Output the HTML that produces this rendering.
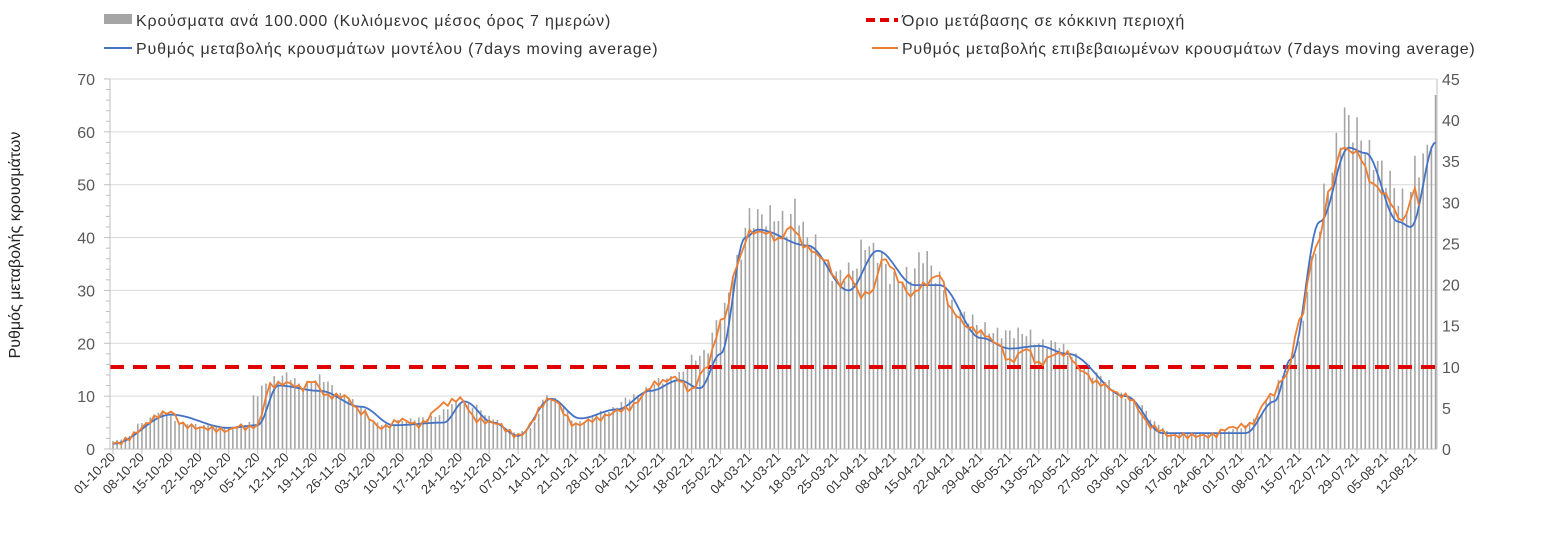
<!DOCTYPE html>
<html><head><meta charset="utf-8">
<style>
html,body{margin:0;padding:0;background:#fff;}
svg text{font-family:"Liberation Sans","DejaVu Sans",sans-serif;}
.lg{font-size:16px;letter-spacing:0.85px;fill:#333;}
</style></head><body>
<svg id="c" width="1550" height="532" xmlns="http://www.w3.org/2000/svg">
<rect width="1550" height="532" fill="#fff"/>
<g id="grid"></g>
<g id="bars"></g>
<line x1="110" y1="367" x2="1437" y2="367" stroke="#e00000" stroke-width="4" stroke-dasharray="14,9"/>
<polyline id="blue" fill="none" stroke="#4472c4" stroke-width="1.8"/>
<polyline id="orange" fill="none" stroke="#ed7d31" stroke-width="1.8"/>
<g id="axes"></g>
<text x="0" y="0" transform="translate(20,245) rotate(-90)" text-anchor="middle" font-size="16" fill="#222">Ρυθμός μεταβολής κρουσμάτων</text>
<rect x="104" y="14" width="28" height="10" fill="#a5a5a5"/>
<text x="136" y="26" class="lg">Κρούσματα ανά 100.000 (Κυλιόμενος μέσος όρος 7 ημερών)</text>
<line x1="104" y1="48" x2="132" y2="48" stroke="#4472c4" stroke-width="2"/>
<text x="136" y="54" class="lg">Ρυθμός μεταβολής κρουσμάτων μοντέλου (7days moving average)</text>
<line x1="866" y1="20" x2="898" y2="20" stroke="#e00000" stroke-width="4" stroke-dasharray="9,5"/>
<text x="902" y="26" class="lg">Όριο μετάβασης σε κόκκινη περιοχή</text>
<line x1="872" y1="48" x2="898" y2="48" stroke="#ed7d31" stroke-width="2"/>
<text x="902" y="54" class="lg" style="letter-spacing:0.75px">Ρυθμός μεταβολής επιβεβαιωμένων κρουσμάτων (7days moving average)</text>
</svg>
<script>
var NS="http://www.w3.org/2000/svg";
function el(p,t,a,txt){var e=document.createElementNS(NS,t);for(var k in a)e.setAttribute(k,a[k]);if(txt!==undefined)e.textContent=txt;document.getElementById(p).appendChild(e);return e;}
var X0=113,DX=4.133,Y0=449,PY=5.286;
function X(d){return X0+d*DX;} function Y(v){return Y0-v*PY;}
function interp(pts,d){for(var i=0;i<pts.length-1;i++){if(d>=pts[i][0]&&d<=pts[i+1][0]){var a=pts[i],b=pts[i+1];var t=(d-a[0])/(b[0]-a[0]);t=(1-Math.cos(t*Math.PI))/2;return a[1]+(b[1]-a[1])*t;}}return pts[pts.length-1][1];}
for(var v=10;v<=70;v+=10){el("grid","line",{x1:110,x2:1437,y1:Y(v),y2:Y(v),stroke:"#d9d9d9","stroke-width":1});}
el("axes","line",{x1:110,x2:110,y1:79,y2:449,stroke:"#bfbfbf"});
el("axes","line",{x1:1437,x2:1437,y1:79,y2:449,stroke:"#bfbfbf"});
el("axes","line",{x1:110,x2:1437,y1:449,y2:449,stroke:"#bfbfbf"});
for(var v=0;v<=70;v+=2){el("axes","line",{x1:v%10==0?104:106,x2:110,y1:Y(v),y2:Y(v),stroke:"#bfbfbf"});}
for(var v=0;v<=70;v+=10){el("axes","text",{x:95,y:Y(v)+6,"text-anchor":"end","font-size":16,fill:"#595959"},String(v));}
for(var v=0;v<=45;v+=5){var y=449-v*370/45;el("axes","text",{x:1442,y:y+6,"font-size":16,fill:"#595959"},String(v));}
var labels=["01-10-20","08-10-20","15-10-20","22-10-20","29-10-20","05-11-20","12-11-20","19-11-20","26-11-20","03-12-20","10-12-20","17-12-20","24-12-20","31-12-20","07-01-21","14-01-21","21-01-21","28-01-21","04-02-21","11-02-21","18-02-21","25-02-21","04-03-21","11-03-21","18-03-21","25-03-21","01-04-21","08-04-21","15-04-21","22-04-21","29-04-21","06-05-21","13-05-21","20-05-21","27-05-21","03-06-21","10-06-21","17-06-21","24-06-21","01-07-21","08-07-21","15-07-21","22-07-21","29-07-21","05-08-21","12-08-21"];
for(var i=0;i<labels.length;i++){var x=X(i*7);el("axes","line",{x1:x,x2:x,y1:449,y2:454,stroke:"#bfbfbf"});
el("axes","text",{x:0,y:0,transform:"translate("+(x+3)+",458) rotate(-45)","text-anchor":"end","font-size":13,fill:"#333"},labels[i]);}
var bp=[[0,1.5],[3,2],[7,5],[12,7],[16,5],[21,4.5],[28,4],[31,4.5],[33,5],[34,10],[38,13],[42,14],[46,12],[50,13.5],[56,10],[60,8],[63,5],[67,4.5],[70,5.5],[77,6],[84,9],[88,8],[91,6],[98,3],[101,4],[105,10],[108,9],[112,5],[119,7],[126,10],[133,13],[137,14],[140,17],[143,18],[147,25],[151,35],[154,44],[161,44],[163,42],[165,46],[168,40],[175,33],[179,34],[182,39],[185,37],[189,32],[193,33],[196,37],[200,32],[203,27],[207,25],[210,23],[214,22],[217,22],[221,22],[224,20],[229,20],[231,18],[238,14],[245,10],[249,8],[252,5],[256,3],[259,3],[266,3],[270,3.5],[273,4],[277,6],[280,10],[284,15],[287,20],[290,35],[294,50],[297,60],[298,63],[301,60],[305,55],[308,52],[311,48],[313,46],[315,53],[318,56],[320,64.5]];
for(var d=0;d<=320;d++){var h=interp(bp,d)*(1+0.05*Math.sin(d*2.3));el("bars","line",{x1:X(d),x2:X(d),y1:449,y2:Y(h),stroke:"#a5a5a5","stroke-width":1.6});}
var bl=[[0,1],[14,6.5],[28,4],[35,4.5],[40,12],[50,11],[60,8],[68,4.5],[80,5],[85,9],[92,5],[98,2.5],[106,9.5],[113,5.8],[122,7.5],[130,11],[137,13],[142,11.5],[147,18],[153,40],[156,41.5],[168,38.5],[178,30],[185,37.5],[194,31],[200,31],[210,21],[217,19],[224,19.5],[231,18],[245,10],[254,3],[274,3],[281,9],[285,17],[292,43],[299,57],[303,56],[311,43],[314,42],[320,58]];
var ol=[[0,1],[14,7],[17,4.5],[21,4],[28,3.5],[30,4.3],[33,4],[35,4.5],[38,12],[42,12.5],[46,11.5],[48,13],[52,10],[56,10],[60,7],[65,4],[70,5.5],[74,4.5],[80,8.5],[84,9.5],[88,5.5],[92,5],[98,2.5],[106,9.5],[112,4.5],[116,5.5],[124,7.5],[132,12.5],[136,13.5],[140,11],[143,15],[148,25],[151,35],[154,41],[158,41],[161,39.5],[164,42],[168,38],[172,36],[176,31],[178,33],[181,29],[184,30],[186,36],[188,35],[190,32],[193,29],[196,31],[200,33],[203,26],[207,23],[210,22],[214,20],[217,16.5],[221,19],[224,16],[228,18],[231,18],[234,15],[238,12.5],[245,10],[252,4],[256,2.5],[266,2.5],[270,4],[275,4.5],[280,10],[284,14],[287,24],[291,38],[295,50],[297,57],[301,56],[305,50],[308,48],[311,44],[312,43],[315,49],[316,46.5]];
var b="",o="";
for(var d=0;d<=320;d+=0.5){b+=X(d).toFixed(1)+","+Y(interp(bl,d)).toFixed(1)+" ";}
for(var d=0;d<=316;d+=1){o+=X(d).toFixed(1)+","+Y(interp(ol,d)+0.5*Math.sin(d*2.7)).toFixed(1)+" ";}
document.getElementById("blue").setAttribute("points",b);
document.getElementById("orange").setAttribute("points",o);
</script>
</body></html>
